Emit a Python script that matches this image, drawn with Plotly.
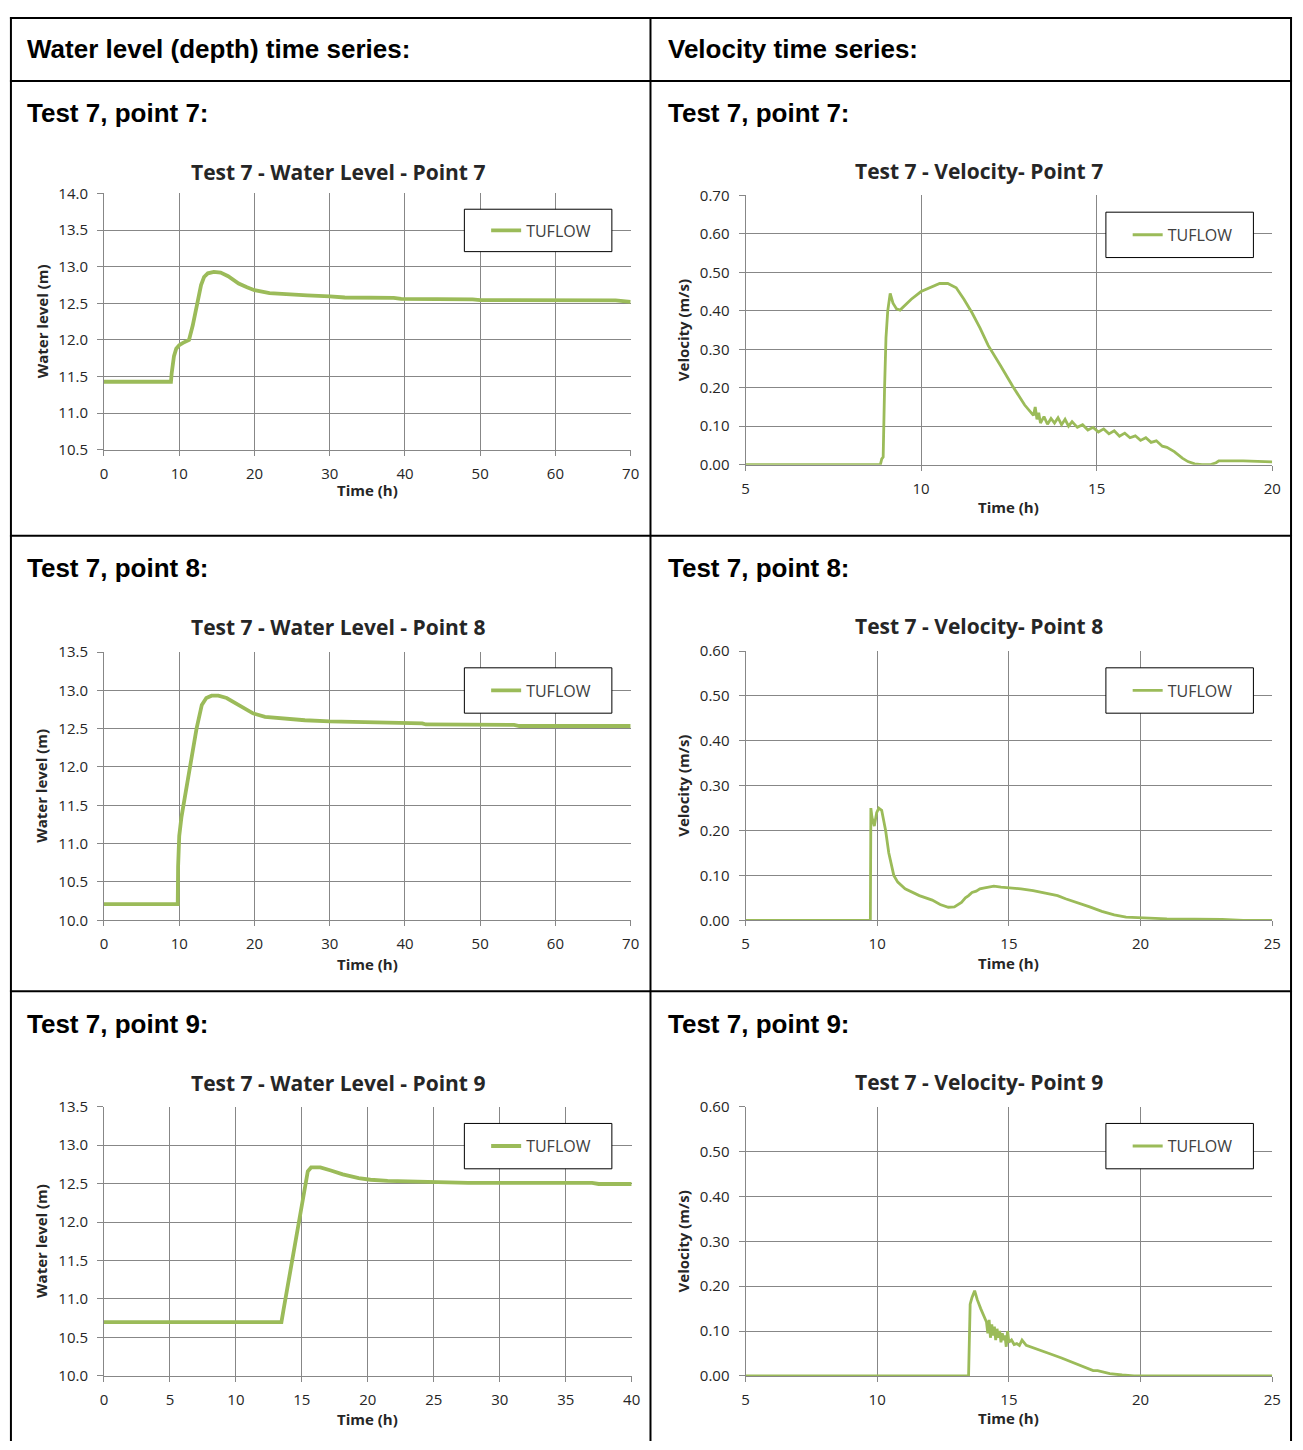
import plotly.graph_objects as go

# ---- data (time in hours) ----

# Test 7 - water level (m)
wl7_time = [0, 8.9, 9.0, 9.3, 9.6, 10.0, 10.5, 11.0, 11.3, 11.8, 12.4, 12.9, 13.3, 13.8,
            14.6, 15.5, 16.5, 17.9, 19.0, 20.0, 22.0, 24.4, 27.0, 30.0, 32.0, 38.5, 39.5,
            49.0, 50.0, 68.0, 69.0, 70.0]
wl7_level = [11.43, 11.43, 11.55, 11.78, 11.88, 11.93, 11.96, 11.98, 12.0, 12.2, 12.5, 12.75,
             12.86, 12.91, 12.93, 12.92, 12.87, 12.77, 12.72, 12.68, 12.64, 12.62, 12.61,
             12.595, 12.58, 12.575, 12.56, 12.555, 12.545, 12.54, 12.525, 12.52]

wl8_time = [0, 9.8, 9.85, 10.0, 10.3, 10.6, 11.0, 11.5, 12.3, 13.0, 13.6, 14.3, 15.2, 16.3,
            17.2, 18.5, 19.8, 21.4, 24.4, 26.7, 30.0, 35.0, 35.5, 42.3, 42.8, 54.5, 55.2, 70.0]
wl8_level = [10.21, 10.21, 10.7, 11.1, 11.35, 11.52, 11.75, 12.0, 12.5, 12.81, 12.9, 12.93,
             12.93, 12.9, 12.85, 12.77, 12.7, 12.655, 12.625, 12.61, 12.595, 12.585, 12.575,
             12.57, 12.555, 12.55, 12.535, 12.535]

wl9_time = [0, 13.45, 13.6, 13.75, 14.3, 14.8, 15.25, 15.45, 15.7, 16.4, 17.2, 18.1, 19.3,
            20.2, 21.5, 24.5, 27.6, 37.0, 37.5, 40.0]
wl9_level = [10.70, 10.70, 10.85, 11.0, 11.5, 12.0, 12.5, 12.66, 12.71, 12.71, 12.67, 12.62,
             12.57, 12.55, 12.535, 12.52, 12.51, 12.51, 12.495, 12.495]

# Test 7 - velocity (m/s)
vel7_time = [5, 8.84, 8.88, 8.92, 8.96, 9.0, 9.05, 9.12, 9.2, 9.3, 9.4, 9.55, 9.72, 10.0,
             10.3, 10.53, 10.76, 11.0, 11.22, 11.45, 11.68, 11.91, 12.26, 12.6, 12.95, 13.1,
             13.2, 13.25, 13.3, 13.35, 13.4, 13.5, 13.6, 13.7, 13.8, 13.9, 14.0, 14.1, 14.2,
             14.3, 14.45, 14.6, 14.75, 14.9, 15.05, 15.2, 15.35, 15.5, 15.65, 15.8, 15.95,
             16.1, 16.25, 16.4, 16.55, 16.7, 16.87, 17.0, 17.21, 17.44, 17.6, 17.79, 18.0,
             18.25, 18.4, 18.48, 19.17, 20.0]
vel7_speed = [0, 0, 0.015, 0.02, 0.2, 0.33, 0.40, 0.445, 0.42, 0.405, 0.402, 0.415, 0.43,
              0.45, 0.463, 0.471, 0.471, 0.46, 0.43, 0.395, 0.355, 0.31, 0.258, 0.205, 0.155,
              0.14, 0.128, 0.15, 0.118, 0.135, 0.108, 0.125, 0.105, 0.12, 0.108, 0.122, 0.104,
              0.118, 0.1, 0.112, 0.097, 0.104, 0.09, 0.097, 0.085, 0.093, 0.08, 0.088, 0.074,
              0.082, 0.07, 0.075, 0.063, 0.07, 0.058, 0.062, 0.048, 0.045, 0.034, 0.017,
              0.008, 0.002, 0.0, 0.0, 0.005, 0.01, 0.01, 0.007]

vel8_time = [5, 9.74, 9.76, 9.8, 9.89, 9.98, 10.06, 10.17, 10.32, 10.44, 10.63, 10.78, 11.06,
             11.6, 12.09, 12.39, 12.7, 12.93, 13.2, 13.35, 13.47, 13.6, 13.76, 13.9, 14.08,
             14.25, 14.43, 14.7, 15.0, 15.46, 15.92, 16.38, 16.85, 17.15, 17.6, 18.07, 18.53,
             19.0, 19.45, 20.06, 20.8, 21.0, 23.1, 23.9, 25.0]
vel8_speed = [0, 0, 0.25, 0.23, 0.21, 0.24, 0.25, 0.245, 0.2, 0.15, 0.10, 0.085, 0.07, 0.055,
              0.045, 0.035, 0.029, 0.03, 0.04, 0.05, 0.055, 0.062, 0.065, 0.07, 0.072, 0.074,
              0.076, 0.074, 0.073, 0.07, 0.066, 0.06, 0.055, 0.048, 0.04, 0.03, 0.02, 0.012,
              0.007, 0.005, 0.004, 0.003, 0.002, 0, 0]

vel9_time = [5, 13.47, 13.53, 13.6, 13.7, 13.8, 13.93, 14.0, 14.08, 14.15, 14.2, 14.25, 14.3,
             14.35, 14.4, 14.45, 14.5, 14.55, 14.6, 14.65, 14.7, 14.75, 14.8, 14.85, 14.9,
             14.95, 15.0, 15.1, 15.2, 15.3, 15.4, 15.5, 15.66, 16.07, 16.53, 17.0, 17.45,
             17.9, 18.2, 18.37, 18.83, 19.3, 19.75, 25.0]
vel9_speed = [0, 0, 0.16, 0.175, 0.19, 0.17, 0.15, 0.14, 0.13, 0.12, 0.095, 0.125, 0.085,
              0.115, 0.09, 0.11, 0.08, 0.105, 0.085, 0.1, 0.075, 0.095, 0.08, 0.09, 0.065,
              0.1, 0.075, 0.08, 0.07, 0.072, 0.068, 0.08, 0.068, 0.06, 0.05, 0.04, 0.03,
              0.02, 0.012, 0.012, 0.005, 0.002, 0, 0]

# ---- page geometry (pixels of the 1303x1450 page, body margin removed below) ----
W, H = 1303, 1450


def px(x):
    return x / W


def py(y):
    return 1 - y / H


GREEN = '#9BBB59'
GRID = '#878787'
TXT = '#262626'
CHART_FONT = 'Open Sans, Lato, sans-serif'
DOC_FONT = 'Liberation Sans, Arial, sans-serif'

# plot area box (left, right, top, bottom), legend box, title / axis title offsets
panels = [
    dict(t=wl7_time, v=wl7_level, box=(101, 633, 185, 445), leg=(465, 614, 201, 244),
         xr=[0, 70], xd=10, yr=[10.5, 14], yd=0.5, fmt='.1f', width=3.8,
         title='Test 7 - Water Level - Point 7', ytitle='Water level (m)', ty=163, xt=41),
    dict(t=vel7_time, v=vel7_speed, box=(749, 1281, 187, 460), leg=(1113, 1262, 204, 250),
         xr=[5, 20], xd=5, yr=[0, 0.7], yd=0.1, fmt='.2f', width=2.8,
         title='Test 7 - Velocity- Point 7', ytitle='Velocity (m/s)', ty=162, xt=43),
    dict(t=wl8_time, v=wl8_level, box=(101, 633, 650, 922), leg=(465, 614, 666, 712),
         xr=[0, 70], xd=10, yr=[10, 13.5], yd=0.5, fmt='.1f', width=3.8,
         title='Test 7 - Water Level - Point 8', ytitle='Water level (m)', ty=625, xt=44),
    dict(t=vel8_time, v=vel8_speed, box=(749, 1281, 649, 922), leg=(1113, 1262, 666, 712),
         xr=[5, 25], xd=5, yr=[0, 0.6], yd=0.1, fmt='.2f', width=2.8,
         title='Test 7 - Velocity- Point 8', ytitle='Velocity (m/s)', ty=624, xt=43),
    dict(t=wl9_time, v=wl9_level, box=(101, 634, 1111, 1384), leg=(465, 614, 1128, 1174),
         xr=[0, 40], xd=5, yr=[10, 13.5], yd=0.5, fmt='.1f', width=3.8,
         title='Test 7 - Water Level - Point 9', ytitle='Water level (m)', ty=1087, xt=44),
    dict(t=vel9_time, v=vel9_speed, box=(749, 1281, 1111, 1384), leg=(1113, 1262, 1128, 1174),
         xr=[5, 25], xd=5, yr=[0, 0.6], yd=0.1, fmt='.2f', width=2.8,
         title='Test 7 - Velocity- Point 9', ytitle='Velocity (m/s)', ty=1086, xt=43),
]

fig = go.Figure()
annotations = []
shapes = []


def note(text, x, y, size, family=CHART_FONT, anchor='center', angle=0, color=TXT):
    annotations.append(dict(text=text, x=px(x), y=py(y), xref='paper', yref='paper',
                            xanchor=anchor, yanchor='middle', showarrow=False,
                            textangle=angle,
                            font=dict(family=family, size=size, color=color)))


for i, p in enumerate(panels, start=1):
    sfx = '' if i == 1 else str(i)
    l, r, t, b = p['box']
    fig.add_trace(go.Scatter(
        x=p['t'], y=p['v'], mode='lines', name='TUFLOW',
        line=dict(color=GREEN, width=p['width']),
        xaxis='x' + sfx, yaxis='y' + sfx, legend='legend' + sfx))

    axis_common = dict(showgrid=True, gridcolor=GRID, gridwidth=1, showline=True,
                       linecolor=GRID, linewidth=1, ticks='outside', tickcolor=GRID,
                       zeroline=False, fixedrange=True,
                       tickfont=dict(family=CHART_FONT, size=15, color=TXT))
    fig.update_layout(**{
        'xaxis' + sfx: dict(domain=[px(l), px(r)], anchor='y' + sfx, range=p['xr'],
                            tick0=p['xr'][0], dtick=p['xd'], ticklen=5,
                            ticklabelstandoff=5, **axis_common),
        'yaxis' + sfx: dict(domain=[py(b), py(t)], anchor='x' + sfx, range=p['yr'],
                            tick0=p['yr'][0], dtick=p['yd'], tickformat=p['fmt'], ticklen=6,
                            ticklabelstandoff=6, **axis_common),
    })

    # legend: white box with black frame, entry placed inside it
    ll, lr, lt, lb = p['leg']
    shapes.append(dict(type='rect', xref='paper', yref='paper', x0=px(ll), x1=px(lr),
                       y0=py(lb), y1=py(lt), fillcolor='white',
                       line=dict(color='black', width=1), layer='above'))
    fig.update_layout(**{
        'legend' + sfx: dict(x=px(ll + 22), y=py((lt + lb) / 2), xanchor='left',
                             yanchor='middle', bgcolor='rgba(0,0,0,0)', borderwidth=0,
                             font=dict(family=CHART_FONT, size=16, color='#404040'))
    })

    # chart title and axis titles
    note('<b>' + p['title'] + '</b>', (l + r) / 2 - 30, p['ty'], 21)
    note('<b>Time (h)</b>', (l + r) / 2, b + p['xt'], 15)
    note('<b>' + p['ytitle'] + '</b>', l - 63, (t + b) / 2, 15, angle=-90)

# ---- table around the charts ----
note('<b>Water level (depth) time series:</b>', 21, 39, 26, DOC_FONT, 'left', color='black')
note('<b>Velocity time series:</b>', 669, 39, 26, DOC_FONT, 'left', color='black')
for row_y, point in [(103, 7), (565, 8), (1027, 9)]:
    for col_x in [21, 669]:
        note('<b>Test 7, point %d:</b>' % point, col_x, row_y, 26, DOC_FONT, 'left',
             color='black')

for y in [7, 71, 532, 994]:
    shapes.append(dict(type='line', xref='paper', yref='paper', x0=px(6), x1=px(1301),
                       y0=py(y), y1=py(y), line=dict(color='black', width=2)))
for x in [7, 653, 1300]:
    shapes.append(dict(type='line', xref='paper', yref='paper', x0=px(x), x1=px(x),
                       y0=py(6), y1=0, line=dict(color='black', width=2)))

fig.update_layout(
    width=W, height=H,
    margin=dict(l=0, r=0, t=0, b=0),
    paper_bgcolor='white',
    plot_bgcolor='white',
    annotations=annotations,
    shapes=shapes,
    showlegend=True,
)

# drop the default body margin so the figure sits exactly in the window
fig.write_html("out.html", config={'displayModeBar': False},
               post_script="document.body.style.margin='0';"
                           "document.body.style.overflow='hidden';")
